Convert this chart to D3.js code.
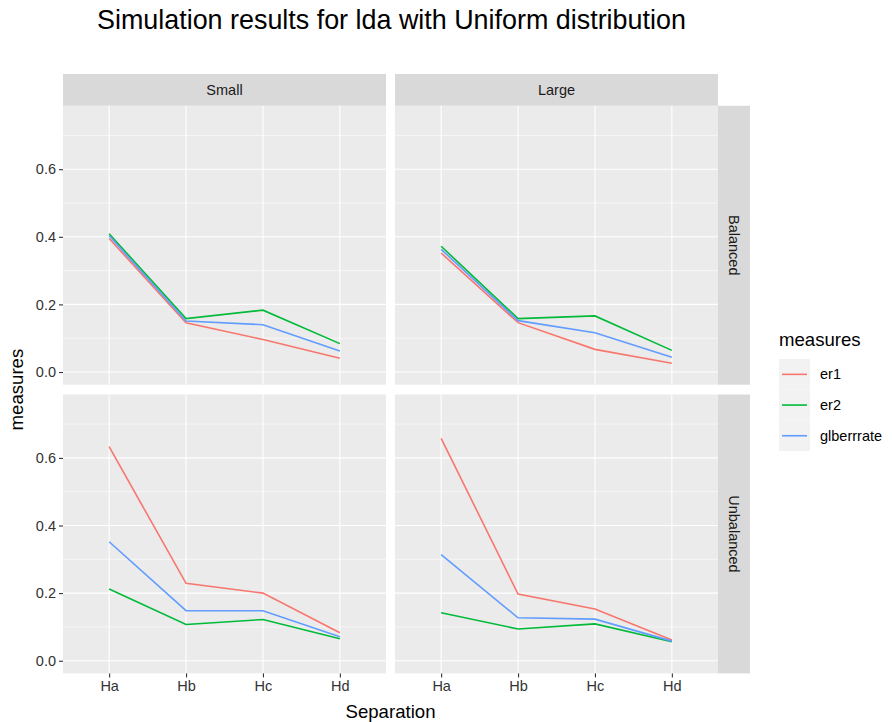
<!DOCTYPE html>
<html>
<head>
<meta charset="utf-8">
<script src="https://cdn.jsdelivr.net/npm/d3@7"></script>
<style>
  body { margin: 0; background: #fff; }
  text { font-family: "Liberation Sans", Arial, Helvetica, sans-serif; }
</style>
</head>
<body>
<svg id="chart" width="892" height="722"></svg>
<script>
const separations = ["Ha", "Hb", "Hc", "Hd"];
const sizes = ["Small", "Large"];
const balances = ["Balanced", "Unbalanced"];
const measures = ["er1", "er2", "glberrrate"];
const colors = ["#F8766D", "#00BA38", "#619CFF"];
const yTicks = [0.0, 0.2, 0.4, 0.6];
const yMinor = [0.1, 0.3, 0.5, 0.7];

// values per panel: [balance][size][measure] -> values at Ha..Hd
const smallBalanced = {
  er1: [0.395, 0.146, 0.096, 0.041],
  er2: [0.409, 0.158, 0.183, 0.084],
  glberrrate: [0.403, 0.151, 0.140, 0.062]
};
const largeBalanced = {
  er1: [0.352, 0.146, 0.067, 0.026],
  er2: [0.372, 0.158, 0.166, 0.064],
  glberrrate: [0.363, 0.152, 0.116, 0.044]
};
const smallUnbalanced = {
  er1: [0.633, 0.229, 0.200, 0.083],
  er2: [0.212, 0.107, 0.122, 0.065],
  glberrrate: [0.352, 0.148, 0.148, 0.071]
};
const largeUnbalanced = {
  er1: [0.658, 0.197, 0.153, 0.061],
  er2: [0.142, 0.094, 0.109, 0.056],
  glberrrate: [0.314, 0.127, 0.123, 0.058]
};
const panelData = {
  Balanced: { Small: smallBalanced, Large: largeBalanced },
  Unbalanced: { Small: smallUnbalanced, Large: largeUnbalanced }
};

const svg = d3.select("#chart");
const font = '"Liberation Sans", Arial, Helvetica, sans-serif';

const colX = [63, 395];
const panelW = 323;
const rowY = [105.8, 394.5];
const panelH = 278.9;
const stripTopY = 74, stripH = 31.8;
const stripRightX = 718, stripW = 32;

const x = d3.scalePoint().domain(separations).range([0, panelW]).padding(0.6);
const y = d3.scaleLinear().domain([-0.0375, 0.7875]).range([panelH, 0]);
const color = d3.scaleOrdinal().domain(measures).range(colors);

// Title
svg.append("text").attr("x", 97).attr("y", 29)
  .attr("font-size", 26.9).attr("fill", "#000")
  .text("Simulation results for lda with Uniform distribution");

// column strips
sizes.forEach((s, ci) => {
  svg.append("rect").attr("x", colX[ci]).attr("y", stripTopY)
    .attr("width", panelW).attr("height", stripH).attr("fill", "#D9D9D9");
  svg.append("text").attr("x", colX[ci] + panelW / 2).attr("y", stripTopY + stripH / 2)
    .attr("text-anchor", "middle").attr("dominant-baseline", "central")
    .attr("font-size", 14.5).attr("fill", "#1A1A1A").text(s);
});

// row strips
balances.forEach((b, ri) => {
  svg.append("rect").attr("x", stripRightX).attr("y", rowY[ri])
    .attr("width", stripW).attr("height", panelH).attr("fill", "#D9D9D9");
  const cx = stripRightX + stripW / 2, cy = rowY[ri] + panelH / 2;
  svg.append("text").attr("transform", `translate(${cx},${cy}) rotate(90)`)
    .attr("text-anchor", "middle").attr("dominant-baseline", "central")
    .attr("font-size", 14.5).attr("fill", "#1A1A1A").text(b);
});

const line = d3.line().x(d => x(d.sep)).y(d => y(d.v));

balances.forEach((b, ri) => {
  sizes.forEach((s, ci) => {
    const g = svg.append("g").attr("transform", `translate(${colX[ci]},${rowY[ri]})`);
    g.append("rect").attr("width", panelW).attr("height", panelH).attr("fill", "#EBEBEB");
    yMinor.forEach(t => {
      g.append("line").attr("x1", 0).attr("x2", panelW).attr("y1", y(t)).attr("y2", y(t))
        .attr("stroke", "#fff").attr("stroke-width", 0.55);
    });
    yTicks.forEach(t => {
      g.append("line").attr("x1", 0).attr("x2", panelW).attr("y1", y(t)).attr("y2", y(t))
        .attr("stroke", "#fff").attr("stroke-width", 1.1);
    });
    separations.forEach(sp => {
      g.append("line").attr("x1", x(sp)).attr("x2", x(sp)).attr("y1", 0).attr("y2", panelH)
        .attr("stroke", "#fff").attr("stroke-width", 1.1);
    });
    const pd = panelData[b][s];
    measures.forEach(m => {
      const pts = separations.map((sp, i) => ({ sep: sp, v: pd[m][i] }));
      g.append("path").datum(pts).attr("d", line).attr("fill", "none")
        .attr("stroke", color(m)).attr("stroke-width", 1.6);
    });

    if (ci === 0) {
      const ay = g.append("g").call(d3.axisLeft(y).tickValues(yTicks).tickFormat(d3.format(".1f")).tickSize(4).tickPadding(3));
      ay.select(".domain").remove();
      ay.selectAll(".tick line").attr("stroke", "#333").attr("stroke-width", 1.1);
      ay.selectAll(".tick text").attr("font-size", 14.5).attr("fill", "#333").attr("font-family", font);
    }
    if (ri === 1) {
      const ax = g.append("g").attr("transform", `translate(0,${panelH})`)
        .call(d3.axisBottom(x).tickSize(4).tickPadding(3));
      ax.select(".domain").remove();
      ax.selectAll(".tick line").attr("stroke", "#333").attr("stroke-width", 1.1);
      ax.selectAll(".tick text").attr("font-size", 14.5).attr("fill", "#333").attr("font-family", font);
    }
  });
});

// axis titles
svg.append("text").attr("x", (colX[0] + stripRightX) / 2).attr("y", 718)
  .attr("text-anchor", "middle").attr("font-size", 18.6).attr("fill", "#000").text("Separation");
svg.append("text").attr("transform", `translate(23,${(rowY[0] + rowY[1] + panelH) / 2}) rotate(-90)`)
  .attr("text-anchor", "middle").attr("font-size", 18.6).attr("fill", "#000").text("measures");

// legend
const lg = svg.append("g");
lg.append("text").attr("x", 779).attr("y", 346).attr("font-size", 18.6).attr("fill", "#000").text("measures");
const keyH = 30.7;
measures.forEach((m, i) => {
  const ky = 359 + i * keyH;
  lg.append("rect").attr("x", 779).attr("y", ky).attr("width", 31).attr("height", keyH).attr("fill", "#F2F2F2");
  lg.append("line").attr("x1", 782).attr("x2", 807).attr("y1", ky + keyH / 2).attr("y2", ky + keyH / 2)
    .attr("stroke", color(m)).attr("stroke-width", 1.6);
  lg.append("text").attr("x", 820).attr("y", ky + keyH / 2).attr("dominant-baseline", "central")
    .attr("font-size", 14.5).attr("fill", "#000").text(m);
});
</script>
</body>
</html>
